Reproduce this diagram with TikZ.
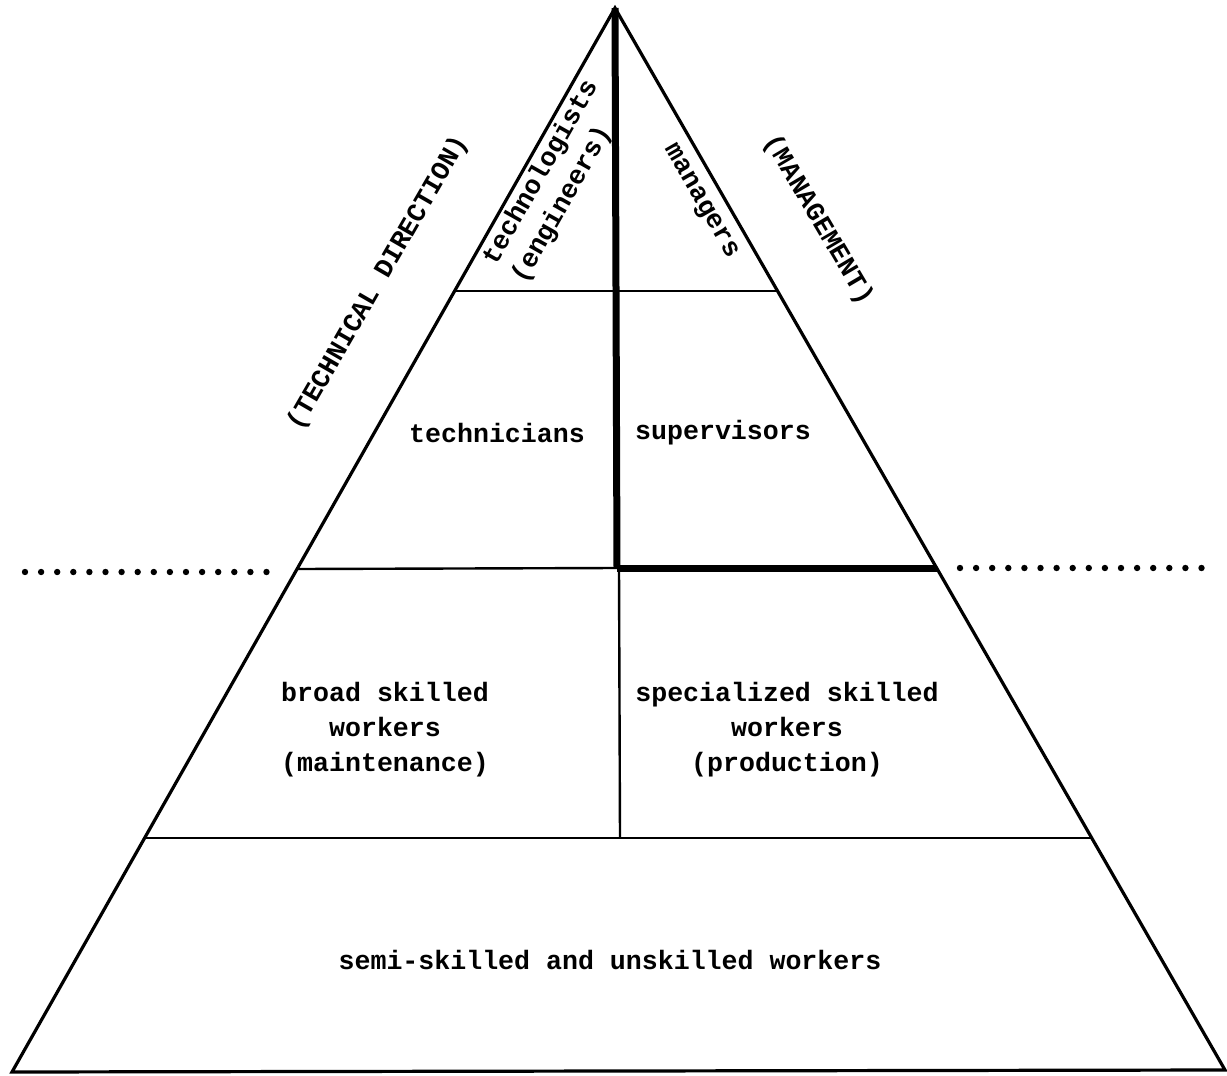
\documentclass[tikz,border=0pt]{standalone}
\usepackage{fontspec}
\setmonofont{Liberation Mono}
\begin{document}
\begin{tikzpicture}[x=0.5pt,y=-0.5pt,
  lbl/.style={font=\ttfamily\bfseries\fontsize{13.3}{17.5}\selectfont, inner sep=0pt, align=center},
  outline/.style={line width=1.6pt, line join=miter},
  band/.style={line width=1.2pt},
  heavy/.style={line width=3.5pt},
  dot/.style={circle, fill=black, inner sep=0pt, minimum size=3.2pt}]
\useasboundingbox (0,0) rectangle (1227,1076);
% corner coordinates
\coordinate (A) at (615,8);
\coordinate (BL) at (12,1072);
\coordinate (BR) at (1225,1070);
\coordinate (L1) at (454.6,291);
\coordinate (R1) at (777.6,291);
\coordinate (L2) at (297.6,569);
\coordinate (R2) at (936.7,568);
\coordinate (L3) at (144.6,838);
\coordinate (R3) at (1091.7,838);
\coordinate (C2) at (617,568);
\coordinate (C2b) at (619,568);
\coordinate (C3) at (620,838);
% outline
\draw[outline] (BL) -- (A) -- (BR) -- cycle;
% bands
\draw[band] (L1) -- (R1);
\draw[band] (L2) -- (C2);
\draw[band] (L3) -- (R3);
\draw[band] (C2b) -- (C3);
% heavy divider
\draw[heavy] (A) -- (C2);
\draw[heavy] (C2) -- (R2);
% dotted lines
\foreach \i in {0,...,15} {
  \node[dot] (dl\i) at (25+16.1*\i,572) {};
  \node[dot] (dr\i) at (960+16.1*\i,568) {};
}
% labels
\node[lbl] (tech) at (497,433) {technicians};
\node[lbl] (sup) at (723,433) {supervisors};
\node[lbl] (broad) at (385,730) {broad skilled\\workers\\(maintenance)};
\node[lbl] (spec) at (787,730) {specialized skilled\\workers\\(production)};
\node[lbl] (semi) at (610,960) {semi-skilled and unskilled workers};
\node[lbl, rotate=60.5] (techn) at (541,173) {technologists};
\node[lbl, rotate=60.5] (eng) at (562,205) {(engineers)};
\node[lbl, rotate=-60] (man) at (700,202) {managers};
\node[lbl, rotate=60] (tdir) at (378,283) {(TECHNICAL DIRECTION)};
\node[lbl, rotate=-59.5] (mgmt) at (818,220) {(MANAGEMENT)};
\end{tikzpicture}
\end{document}
